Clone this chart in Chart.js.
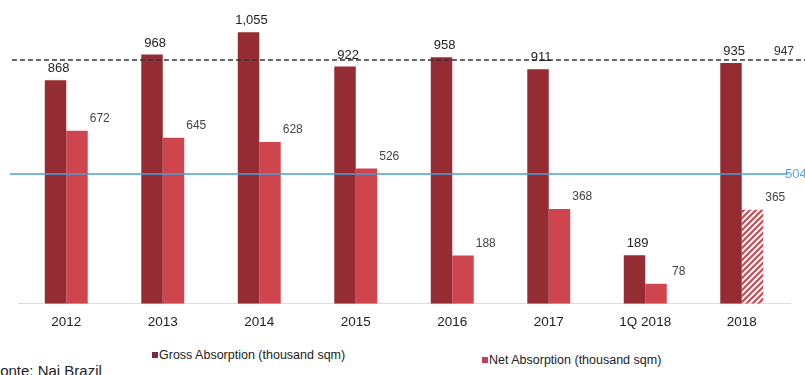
<!DOCTYPE html>
<html>
<head>
<meta charset="utf-8">
<script src="https://cdn.jsdelivr.net/npm/chart.js@4.4.1/dist/chart.umd.min.js"></script>
<style>
  html, body { margin: 0; padding: 0; background: #fff; overflow: hidden; }
  #wrap { position: relative; width: 805px; height: 375px; font-family: "Liberation Sans", Arial, sans-serif; }
  #chart { position: absolute; left: 0; top: 0; }
  .legend { position: absolute; font-size: 12.5px; color: #222; white-space: nowrap; }
  .legend i { display: inline-block; width: 6px; height: 6px; margin-right: 1px; vertical-align: 1px; }
  #source { position: absolute; left: -9px; top: 362px; font-size: 15px; color: #222; white-space: nowrap; }
</style>
</head>
<body>
<div id="wrap">
  <canvas id="chart" width="805" height="340"></canvas>
  <div class="legend" style="left:152px; top:348px;"><i style="background:#7a2a3c"></i>Gross Absorption (thousand sqm)</div>
  <div class="legend" style="left:482px; top:353px;"><i style="background:#c0405a"></i>Net Absorption (thousand sqm)</div>
  <div id="source">Fonte: Nai Brazil</div>
</div>
<script>
// Office absorption by period, thousand sqm
const categories = ["2012", "2013", "2014", "2015", "2016", "2017", "1Q 2018", "2018"];
const grossValues = [868, 968, 1055, 922, 958, 911, 189, 935];
const netValues = [672, 645, 628, 526, 188, 368, 78, 365];
// Period averages shown as reference lines
const grossAverage = 947;
const netAverage = 504;

const grossColor = "#962c33";
const netColor = "#cf454d";

// 2018 net absorption is a forecast: diagonal hatch
function hatch(color) {
  const c = document.createElement("canvas");
  c.width = 6; c.height = 6;
  const g = c.getContext("2d");
  g.fillStyle = "#fff";
  g.fillRect(0, 0, 6, 6);
  g.strokeStyle = color;
  g.lineWidth = 2;
  g.beginPath();
  g.moveTo(0, 6); g.lineTo(6, 0);
  g.moveTo(-3, 3); g.lineTo(3, -3);
  g.moveTo(3, 9); g.lineTo(9, 3);
  g.stroke();
  return g.createPattern(c, "repeat");
}
const netFill = netValues.map((v, i) => i === categories.length - 1 ? hatch(netColor) : netColor);

const overlay = {
  id: "overlay",
  afterDatasetsDraw(chart) {
    const ctx = chart.ctx;
    const y = chart.scales.y;
    const W = chart.width;
    ctx.save();
    // gross average (dashed)
    const yg = y.getPixelForValue(grossAverage);
    ctx.strokeStyle = "#333";
    ctx.lineWidth = 1.4;
    ctx.setLineDash([5, 3]);
    ctx.beginPath(); ctx.moveTo(12, yg); ctx.lineTo(W, yg); ctx.stroke();
    ctx.setLineDash([]);
    // net average (solid blue)
    const yn = y.getPixelForValue(netAverage);
    ctx.strokeStyle = "#4a9fd8";
    ctx.lineWidth = 1.5;
    ctx.beginPath(); ctx.moveTo(10, yn); ctx.lineTo(788, yn); ctx.stroke();

    ctx.font = "12px 'Liberation Sans', Arial, sans-serif";
    ctx.textBaseline = "bottom";
    ctx.textAlign = "center";
    ctx.fillStyle = "#333";
    ctx.fillText(String(grossAverage), 784, yg - 2);
    ctx.textBaseline = "middle";
    ctx.textAlign = "left";
    ctx.fillStyle = "#5aa5dc";
    ctx.font = "13px 'Liberation Sans', Arial, sans-serif";
    ctx.fillText(String(netAverage), 785, yn);

    // value labels
    const gMeta = chart.getDatasetMeta(0);
    const nMeta = chart.getDatasetMeta(1);
    ctx.textBaseline = "bottom";
    ctx.textAlign = "center";
    ctx.fillStyle = "#222";
    ctx.font = "13px 'Liberation Sans', Arial, sans-serif";
    gMeta.data.forEach((bar, i) => {
      const v = grossValues[i];
      ctx.fillText(v.toLocaleString("en-US"), bar.x + 3, bar.y - 5);
    });
    ctx.font = "12px 'Liberation Sans', Arial, sans-serif";
    ctx.fillStyle = "#444";
    nMeta.data.forEach((bar, i) => {
      const v = netValues[i];
      ctx.fillText(String(v), bar.x + bar.width * 0.5 + 12, bar.y - 6);
    });
    ctx.restore();
  }
};

new Chart(document.getElementById("chart"), {
  type: "bar",
  data: {
    labels: categories,
    datasets: [
      { label: "Gross Absorption (thousand sqm)", data: grossValues, backgroundColor: grossColor },
      { label: "Net Absorption (thousand sqm)", data: netValues, backgroundColor: netFill }
    ]
  },
  options: {
    responsive: false,
    animation: false,
    layout: { padding: { left: 18, right: 15, top: 0, bottom: 0 } },
    datasets: { bar: { categoryPercentage: 0.445, barPercentage: 1 } },
    plugins: { legend: { display: false }, tooltip: { enabled: false } },
    scales: {
      x: {
        grid: { display: false, drawTicks: false },
        border: { display: true, color: "#ddd", width: 1 },
        ticks: { color: "#222", padding: 10, font: { size: 13.5, family: "'Liberation Sans', Arial, sans-serif" } }
      },
      y: {
        display: false,
        min: 0,
        max: 1180
      }
    }
  },
  plugins: [overlay]
});
</script>
</body>
</html>
